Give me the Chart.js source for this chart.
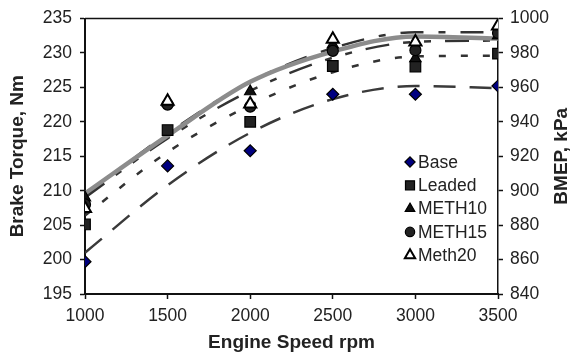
<!DOCTYPE html>
<html>
<head>
<meta charset="utf-8">
<script src="https://cdn.jsdelivr.net/npm/chart.js@4.4.1/dist/chart.umd.min.js"></script>
<style>
  html, body { margin: 0; padding: 0; background: #fff; }
  #wrap { width: 574px; height: 356px; }
</style>
</head>
<body>
<div id="wrap"><canvas id="chart"></canvas></div>
<script>
const rpm = [1000, 1500, 2000, 2500, 3000, 3500];

// measured brake torque, Nm
const base   = [199.7, 213.6, 215.8, 224.0, 224.0, 225.2];
const leaded = [205.1, 218.8, 220.0, 228.1, 228.0, 229.9];
const meth10 = [209.0, 222.8, 224.4, 231.2, 229.2, 232.5];
const meth15 = [208.0, 222.5, 222.2, 230.3, 230.4, 232.9];
const meth20 = [207.4, 223.0, 222.6, 232.0, 231.6, 233.9];

// trend lines at the same speeds
const baseTrend   = [201.0, 210.8, 218.4, 223.3, 225.2, 224.9];
const leadedTrend = [206.4, 215.6, 222.4, 227.2, 229.5, 229.6];
const meth10Trend = [209.2, 218.3, 225.8, 230.7, 233.0, 233.0];
const meth15Trend = [209.0, 217.6, 224.5, 229.3, 231.6, 231.8];
const meth20Trend = [209.6, 218.0, 225.8, 230.2, 232.4, 232.1];

const speedTicks  = [1000, 1500, 2000, 2500, 3000, 3500];
const torqueTicks = [195, 200, 205, 210, 215, 220, 225, 230, 235];
const bmepTicks   = [840, 860, 880, 900, 920, 940, 960, 980, 1000];

const FONT = '"Liberation Sans", Arial, Helvetica, sans-serif';
const TXT = '#222';

const pts = ys => rpm.map((x, i) => ({ x: x, y: ys[i] }));

function trend(ys, color, width, dash) {
  return {
    data: pts(ys), showLine: true, pointRadius: 0, fill: false,
    borderColor: color, borderWidth: width, borderDash: dash,
    cubicInterpolationMode: 'monotone', order: 10
  };
}

function marker(label, ys, style, radius, fillC, bw, order) {
  return {
    label: label, data: pts(ys), showLine: false,
    pointStyle: style, pointRadius: radius,
    backgroundColor: fillC, borderColor: '#000', borderWidth: bw,
    order: order, isMarker: true
  };
}

const datasets = [
  trend(meth20Trend, '#8c8c8c', 4.5, []),
  trend(baseTrend, '#3a3a3a', 2.5, [22, 14]),
  trend(leadedTrend, '#333', 2.5, [7, 15]),
  trend(meth10Trend, '#333', 2.5, [23, 15, 7, 15]),
  trend(meth15Trend, '#333', 2.5, [24, 14, 7, 14, 7, 14]),
  marker('Base', base, 'rectRot', 6, '#000080', 1.2, 5),
  marker('Leaded', leaded, 'rect', 7.5, '#222', 1.2, 4),
  marker('METH10', meth10, 'triangle', 6.5, '#111', 1.2, 3),
  marker('METH15', meth15, 'circle', 5.5, '#222', 1.2, 2),
  marker('Meth20', meth20, 'triangle', 7, '#fff', 2, 1)
];

const plain = v => String(v);

const frame = {
  id: 'frame',
  afterDraw(chart) {
    const ctx = chart.ctx, a = chart.chartArea;
    ctx.save();
    // top border
    ctx.strokeStyle = '#111';
    ctx.lineWidth = 1.5;
    ctx.beginPath();
    ctx.moveTo(a.left, a.top);
    ctx.lineTo(a.right, a.top);
    ctx.stroke();

    // axis titles
    ctx.fillStyle = TXT;
    ctx.font = 'bold 19px ' + FONT;
    ctx.textAlign = 'center';
    ctx.textBaseline = 'middle';
    ctx.fillText('Engine Speed rpm', (a.left + a.right) / 2, 343);
    ctx.save();
    ctx.translate(18, (a.top + a.bottom) / 2);
    ctx.rotate(-Math.PI / 2);
    ctx.fillText('Brake Torque, Nm', 0, 0);
    ctx.restore();
    ctx.save();
    ctx.translate(562, (a.top + a.bottom) / 2);
    ctx.rotate(-Math.PI / 2);
    ctx.fillText('BMEP, kPa', 0, 0);
    ctx.restore();

    // legend inside the plot
    const items = chart.data.datasets.filter(d => d.isMarker);
    let y = 162;
    ctx.font = '17.5px ' + FONT;
    ctx.textAlign = 'left';
    items.forEach(d => {
      ctx.fillStyle = d.backgroundColor;
      ctx.strokeStyle = '#000';
      ctx.lineWidth = d.borderWidth;
      Chart.helpers.drawPoint(ctx, {
        pointStyle: d.pointStyle, radius: d.pointRadius * 0.85, rotation: 0, borderWidth: d.borderWidth
      }, 410, y);
      ctx.fillStyle = TXT;
      ctx.fillText(d.label, 418, y + 1);
      y += 23.3;
    });
    ctx.restore();
  }
};

new Chart(document.getElementById('chart'), {
  type: 'scatter',
  data: { datasets: datasets },
  options: {
    animation: false,
    responsive: true,
    maintainAspectRatio: false,
    layout: { padding: { top: 15, left: 0, right: 0, bottom: 0 } },
    scales: {
      x: {
        type: 'linear', min: 1000, max: 3500,
        afterBuildTicks: s => { s.ticks = speedTicks.map(v => ({ value: v })); },
        afterFit: s => { s.height = 62; },
        ticks: { color: TXT, font: { family: FONT, size: 17.5 }, padding: 7, maxRotation: 0, callback: plain },
        grid: { drawOnChartArea: false, tickLength: 5, color: '#111', tickWidth: 1.5 },
        border: { color: '#111', width: 2 }
      },
      y: {
        position: 'left', min: 195, max: 235,
        afterBuildTicks: s => { s.ticks = torqueTicks.map(v => ({ value: v })); },
        afterFit: s => { s.width = 85; },
        ticks: { color: TXT, font: { family: FONT, size: 17.5 }, padding: 8, callback: plain },
        grid: { drawOnChartArea: false, tickLength: 5, color: '#111', tickWidth: 1.5 },
        border: { color: '#111', width: 2 }
      },
      y2: {
        position: 'right', min: 840, max: 1000,
        afterBuildTicks: s => { s.ticks = bmepTicks.map(v => ({ value: v })); },
        afterFit: s => { s.width = 76; },
        ticks: { color: TXT, font: { family: FONT, size: 17.5 }, padding: 7, callback: plain },
        grid: { drawOnChartArea: false, tickLength: 5, color: '#111', tickWidth: 1.5 },
        border: { color: '#111', width: 1.5 }
      }
    },
    plugins: {
      legend: { display: false },
      tooltip: { enabled: false },
      title: { display: false }
    }
  },
  plugins: [frame]
});
</script>
</body>
</html>
